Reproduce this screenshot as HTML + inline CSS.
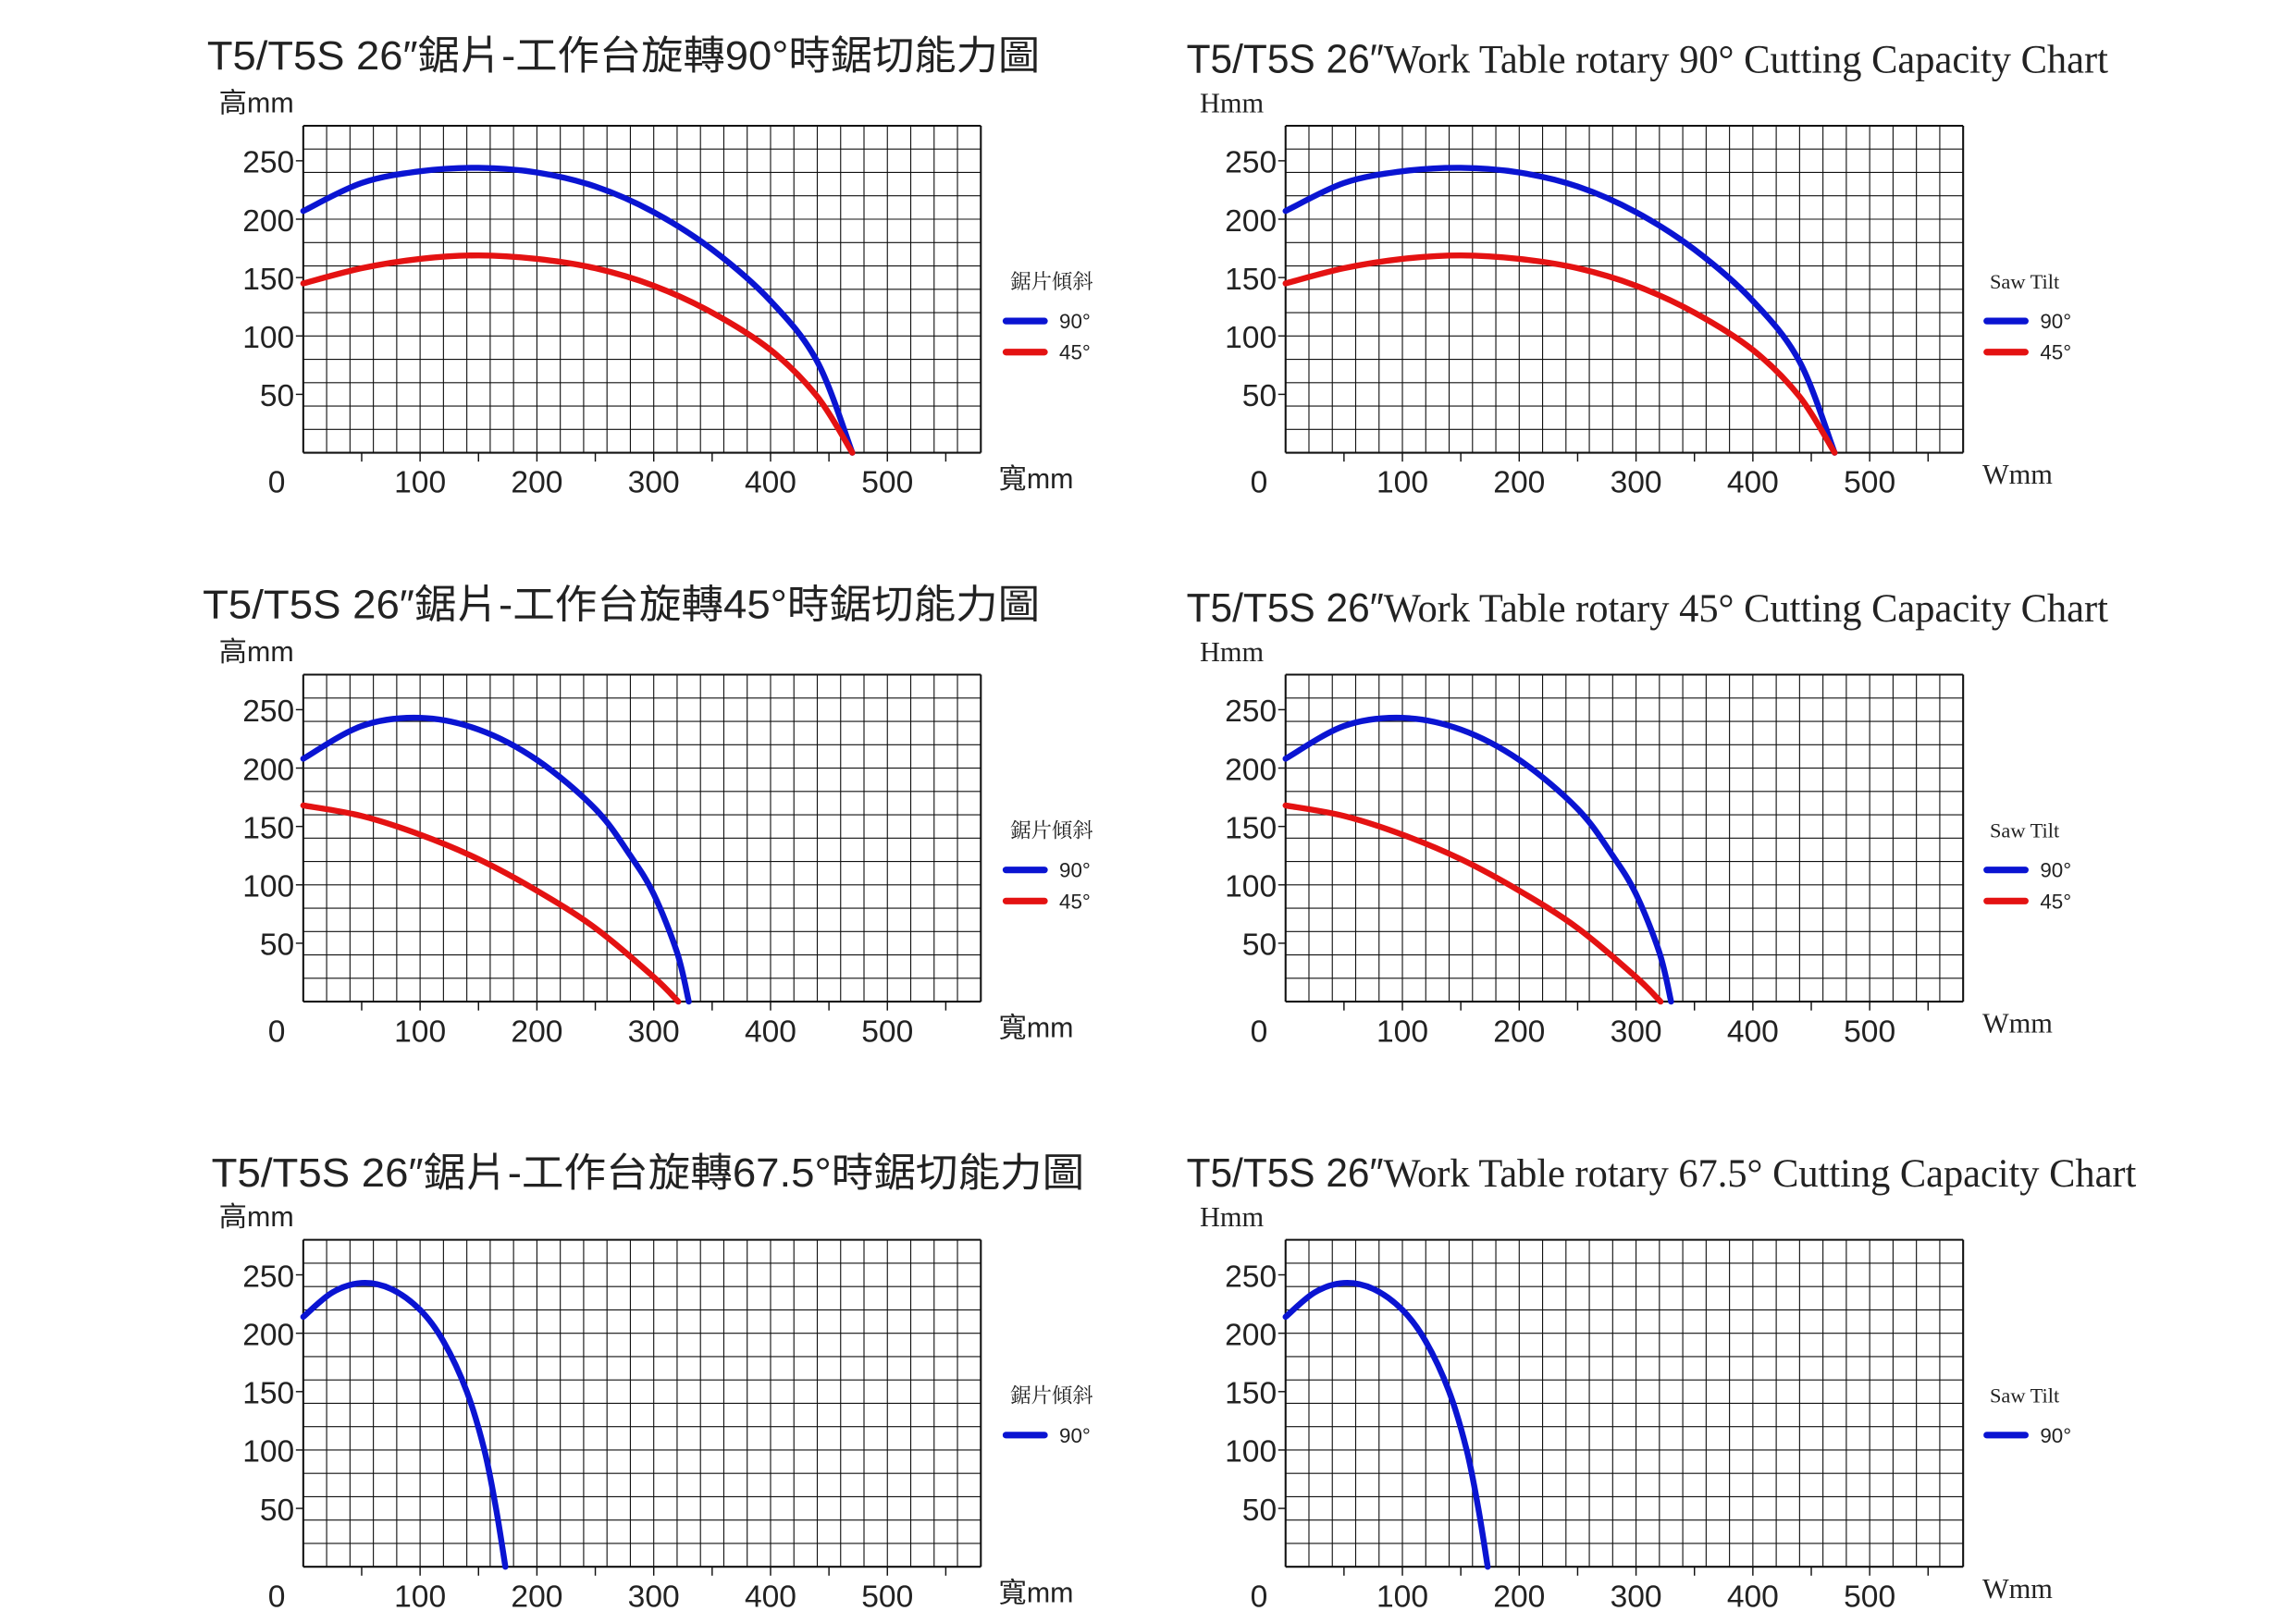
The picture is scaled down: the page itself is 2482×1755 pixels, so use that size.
<!DOCTYPE html>
<html><head><meta charset="utf-8"><style>
html,body{margin:0;padding:0;background:#fff;}
svg{display:block;}
text{font-family:"Liberation Sans Narrow","Liberation Sans","Noto Sans CJK TC",sans-serif;fill:#222;}
.ser{font-family:"Liberation Serif","Noto Serif CJK SC",serif;}
</style></head><body>
<svg id="root" width="2482" height="1755" viewBox="0 0 1552 1097" preserveAspectRatio="none" xmlns="http://www.w3.org/2000/svg"></svg>
<script>
// ---- data (mm) ----
const xTicks = [0,100,200,300,400,500];
const yTicks = [50,100,150,200,250];
const r90_blue_x = [0,50,100,150,200,250,300,350,400,440,470];
const r90_blue_y = [207,231,241,244,240,228,206,174,130,78,0];
const r90_red_x  = [0,50,100,150,200,250,300,350,400,440,470];
const r90_red_y  = [145,158,166,169,166,158,143,120,88,48,0];
const r45_blue_x = [0,50,100,150,200,250,280,300,320,330];
const r45_blue_y = [208,236,243,233,207,165,125,92,42,0];
const r45_red_x  = [0,50,100,150,200,250,300,321];
const r45_red_y  = [168,159,143,122,95,63,21,0];
const r67_blue_x = [0,25,50,75,100,120,140,155,165,173];
const r67_blue_y = [214,235,243,238,220,193,150,100,50,0];

const NS="http://www.w3.org/2000/svg";
const root=document.getElementById('root');
function el(tag,attrs,parent){const e=document.createElementNS(NS,tag);for(const k in attrs)e.setAttribute(k,attrs[k]);(parent||root).appendChild(e);return e;}

const charts=[
 {x0:205,y0:306,lang:'zh',title:'T5/T5S  26″鋸片-工作台旋轉90°時鋸切能力圖',tx:140,ty:47,tl:563,series:[[r90_blue_x,r90_blue_y,'#0a14d2','90°'],[r90_red_x,r90_red_y,'#e41212','45°']]},
 {x0:869,y0:306,lang:'en',rot:'90°',tx:802,ty:49,tl:623,series:[[r90_blue_x,r90_blue_y,'#0a14d2','90°'],[r90_red_x,r90_red_y,'#e41212','45°']]},
 {x0:205,y0:677,lang:'zh',title:'T5/T5S  26″鋸片-工作台旋轉45°時鋸切能力圖',tx:137,ty:418,tl:566,series:[[r45_blue_x,r45_blue_y,'#0a14d2','90°'],[r45_red_x,r45_red_y,'#e41212','45°']]},
 {x0:869,y0:677,lang:'en',rot:'45°',tx:802,ty:420,tl:623,series:[[r45_blue_x,r45_blue_y,'#0a14d2','90°'],[r45_red_x,r45_red_y,'#e41212','45°']]},
 {x0:205,y0:1059,lang:'zh',title:'T5/T5S  26″鋸片-工作台旋轉67.5°時鋸切能力圖',tx:143,ty:802,tl:590,series:[[r67_blue_x,r67_blue_y,'#0a14d2','90°']]},
 {x0:869,y0:1059,lang:'en',rot:'67.5°',tx:802,ty:802,tl:642,series:[[r67_blue_x,r67_blue_y,'#0a14d2','90°']]},
];
const XMAX=580,YMAX=280,W=458,H=221;

function smooth(pts){
  let d='M'+pts[0][0]+','+pts[0][1];
  for(let i=0;i<pts.length-1;i++){
    const p0=pts[i-1]||pts[i],p1=pts[i],p2=pts[i+1],p3=pts[i+2]||p2;
    const c1=[p1[0]+(p2[0]-p0[0])/6,p1[1]+(p2[1]-p0[1])/6];
    const c2=[p2[0]-(p3[0]-p1[0])/6,p2[1]-(p3[1]-p1[1])/6];
    d+=' C'+c1[0].toFixed(2)+','+c1[1].toFixed(2)+' '+c2[0].toFixed(2)+','+c2[1].toFixed(2)+' '+p2[0].toFixed(2)+','+p2[1].toFixed(2);
  }
  return d;
}

charts.forEach((c,ci)=>{
  const g=el('g',{});
  
  
  const sx=v=>c.x0+v/XMAX*W, sy=v=>c.y0-v/YMAX*H;
  let t;
  if(c.lang==='zh'){
    t=el('text',{x:c.tx,y:c.ty,'font-size':27,textLength:c.tl,lengthAdjust:'spacingAndGlyphs'},g);
    t.textContent=c.title;
  } else {
    t=el('text',{x:c.tx,y:c.ty,'font-size':27,textLength:c.tl,lengthAdjust:'spacingAndGlyphs'},g);
    const a=el('tspan',{},t);a.textContent='T5/T5S  26″';
    const b=el('tspan',{class:'ser'},t);b.textContent='Work Table rotary '+c.rot+'  Cutting Capacity Chart';
  }
  
  
  const yt=el('text',{x:c.lang==='zh'?148:811,y:c.y0-230,'font-size':19,class:c.lang==='zh'?'':'ser'},g);
  yt.textContent=c.lang==='zh'?'高mm':'Hmm';
  
  
  for(let v=0;v<=XMAX;v+=20){const l=el('line',{x1:sx(v),x2:sx(v),y1:sy(0),y2:sy(YMAX),stroke:'#111','stroke-width':v===0||v===XMAX?1.3:0.7},g);}
  for(let v=0;v<=YMAX;v+=20){const l=el('line',{x1:sx(0),x2:sx(XMAX),y1:sy(v),y2:sy(v),stroke:'#111','stroke-width':v===0||v===YMAX?1.3:0.7},g);}
  for(let v=50;v<XMAX;v+=50){const l=el('line',{x1:sx(v),x2:sx(v),y1:sy(0),y2:sy(0)+6,stroke:'#111','stroke-width':0.9},g);}
  xTicks.forEach(v=>{
    const tx=el('text',{x:v===0?sx(0)-18:sx(v),y:c.y0+27,'font-size':21,'text-anchor':'middle'},g);
    tx.textContent=v;
    
    
  });
  yTicks.forEach(v=>{
    const l=el('line',{x1:sx(0)-5,x2:sx(0),y1:sy(v),y2:sy(v),stroke:'#111','stroke-width':0.9},g);
    
    const ty=el('text',{x:sx(0)-6,y:sy(v)+8,'font-size':21,'text-anchor':'end'},g);
    ty.textContent=v;
    
    
  });
  const xt=el('text',{x:c.lang==='zh'?c.x0+470:c.x0+471,y:c.y0+(c.lang==='zh'?24:21),'font-size':19,class:c.lang==='zh'?'':'ser'},g);
  xt.textContent=c.lang==='zh'?'寬mm':'Wmm';
  
  
  c.series.forEach(s=>{
    const pts=s[0].map((x,i)=>[sx(x),sy(s[1][i])]);
    const p=el('path',{d:smooth(pts),fill:'none',stroke:s[2],'stroke-width':4,'stroke-linecap':'round'},g);
    
    
  });
  const lx=c.x0+(c.lang==='zh'?475:474), ly=c.y0-111;
  const lt=el('text',{x:c.lang==='zh'?lx+3:lx+2,y:ly,'font-size':14,class:'ser'},g);
  lt.textContent=c.lang==='zh'?'鋸片傾斜':'Saw Tilt';
  
  
  c.series.forEach((s,i)=>{
    const yy=ly+22+i*21;
    const l=el('line',{x1:lx,x2:lx+26,y1:yy,y2:yy,stroke:s[2],'stroke-width':4.5,'stroke-linecap':'round'},g);
    
    
    const tt=el('text',{x:lx+36,y:yy+5,'font-size':14},g);
    tt.textContent=s[3];
    
    
  });
});
</script>
</body></html>
